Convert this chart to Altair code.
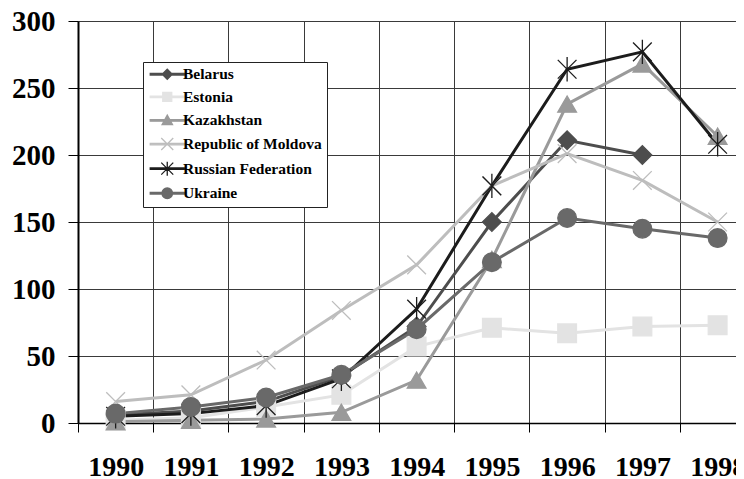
import altair as alt
import pandas as pd

years = [1990, 1991, 1992, 1993, 1994, 1995, 1996, 1997, 1998]
countries = ["Belarus", "Estonia", "Kazakhstan", "Republic of Moldova",
             "Russian Federation", "Ukraine"]
belarus = [6, 9, 16, 35, 72, 150, 211, 200, None]
estonia = [2, 4, 12, 21, 57, 71, 67, 72, 73]
kazakhstan = [1, 2, 3, 8, 32, 122, 238, 268, 214]
moldova = [16, 21, 47, 84, 118, 177, 201, 181, 150]
russia = [5, 7, 13, 33, 85, 177, 264, 277, 208]
ukraine = [7, 12, 19, 36, 70, 120, 153, 145, 138]
y_ticks = [0, 50, 100, 150, 200, 250, 300]

series = [belarus, estonia, kazakhstan, moldova, russia, ukraine]
line_colors = ["#4d4d4d", "#e3e3e3", "#9a9a9a", "#bdbdbd", "#1c1c1c", "#696969"]
fill_colors = ["#4d4d4d", "#e3e3e3", "#9a9a9a", "transparent", "transparent", "#696969"]
shapes = ["diamond", "square", "triangle-up",
          "M-1,-1L1,1M-1,1L1,-1",
          "M-1,-1L1,1M-1,1L1,-1M0,-1.3L0,1.3",
          "circle"]

# legend symbols: a short line with the series marker on it (unit = 5px)
seg = "M-1,-0.15L5.8,-0.15L5.8,0.15L-1,0.15Z"
legend_shapes = [
    seg + "M1.4,0L2.4,-1L3.4,0L2.4,1Z",
    seg + "M1.5,-0.9L3.3,-0.9L3.3,0.9L1.5,0.9Z",
    seg + "M1.35,0.85L2.4,-1.05L3.45,0.85Z",
    seg + "M1.2,-1.2L3.6,1.2M1.2,1.2L3.6,-1.2",
    seg + "M1.2,-1.2L3.6,1.2M1.2,1.2L3.6,-1.2M2.4,-1.4L2.4,1.4",
    seg + "M1.35,0A1.05,1.05,0,1,1,3.45,0A1.05,1.05,0,1,1,1.35,0Z",
]

rows = []
for name, vals in zip(countries, series):
    for yr, v in zip(years, vals):
        if v is not None:
            rows.append({"year": yr, "value": v, "country": name,
                         "series": name, "key": name})
df = pd.DataFrame(rows)

FONT = "Liberation Serif"
PLOT_W = 658
band = 75.25
x_start = years[0] - 0.5
grid_vals = [x_start + i for i in range(len(years))]
x_scale = alt.Scale(domain=[x_start, x_start + PLOT_W / band], nice=False, zero=False)

x_grid = alt.X(
    "year:Q", title=None, scale=x_scale,
    axis=alt.Axis(
        orient="bottom",
        values=grid_vals, labels=False,
        tickSize=9, tickColor="black", tickWidth=1,
        grid=True, gridColor="#3a3a3a", gridWidth=1,
        domainColor="black", domainWidth=1.3,
    ),
)
x_labels = alt.X(
    "year:Q", title=None, scale=x_scale,
    axis=alt.Axis(
        orient="bottom",
        values=years, format="d",
        labelFlush=False, labelOverlap=False,
        labelFont=FONT, labelFontWeight="bold", labelFontSize=28, labelColor="black",
        labelPadding=30,
        ticks=False, grid=False, domain=False,
    ),
)
x_none = alt.X("year:Q", title=None, scale=x_scale, axis=None)

y_enc = alt.Y(
    "value:Q",
    title=None,
    scale=alt.Scale(domain=[0, 300], nice=False),
    axis=alt.Axis(
        values=y_ticks,
        labelFlush=False,
        labelOverlap=False,
        labelFont=FONT, labelFontWeight="bold", labelFontSize=29, labelColor="black",
        labelPadding=13,
        tickSize=10, tickColor="black", tickWidth=1,
        grid=True, gridColor="#3a3a3a", gridWidth=1,
        domainColor="black", domainWidth=2,
    ),
)

legend = alt.Legend(
    orient="none", legendX=65, legendY=41, title=None, direction="vertical",
    labelFont=FONT, labelFontWeight="bold", labelFontSize=15.5, labelColor="black",
    labelOffset=20, rowPadding=5.6, padding=4.5, labelLimit=400,
    symbolSize=100, symbolStrokeWidth=1.3, symbolOpacity=1,
    strokeColor="#222222", fillColor="white",
)

base = alt.Chart(df)
lines = base.mark_line(strokeWidth=3).encode(
    x=x_grid, y=y_enc,
    color=alt.Color("country:N", scale=alt.Scale(range=line_colors), legend=None),
)
points = base.mark_point(size=350, opacity=1, strokeWidth=1.3).encode(
    x=x_labels, y=y_enc,
    shape=alt.Shape("series:N", scale=alt.Scale(range=shapes), legend=None),
    fill=alt.Fill("series:N", scale=alt.Scale(range=fill_colors), legend=None),
    stroke=alt.Stroke("series:N", scale=alt.Scale(range=line_colors), legend=None),
)
legend_layer = base.mark_point(size=100, opacity=0, strokeWidth=1.3).encode(
    x=x_none, y=y_enc,
    shape=alt.Shape("key:N", scale=alt.Scale(range=legend_shapes), legend=legend),
    fill=alt.Fill("key:N", scale=alt.Scale(range=line_colors), legend=legend),
    stroke=alt.Stroke("key:N", scale=alt.Scale(range=line_colors), legend=legend),
)

chart = alt.layer(lines, points, legend_layer).resolve_axis(
    x="independent"
).resolve_scale(
    shape="independent", fill="independent", stroke="independent"
).properties(
    width=PLOT_W, height=402,
    autosize=alt.AutoSizeParams(type="none"),
    padding={"left": 70, "top": 13, "right": 0, "bottom": 62},
    background="white",
).configure_view(strokeWidth=0)

chart.save("out.html", embed_options={"renderer": "svg", "actions": False})
